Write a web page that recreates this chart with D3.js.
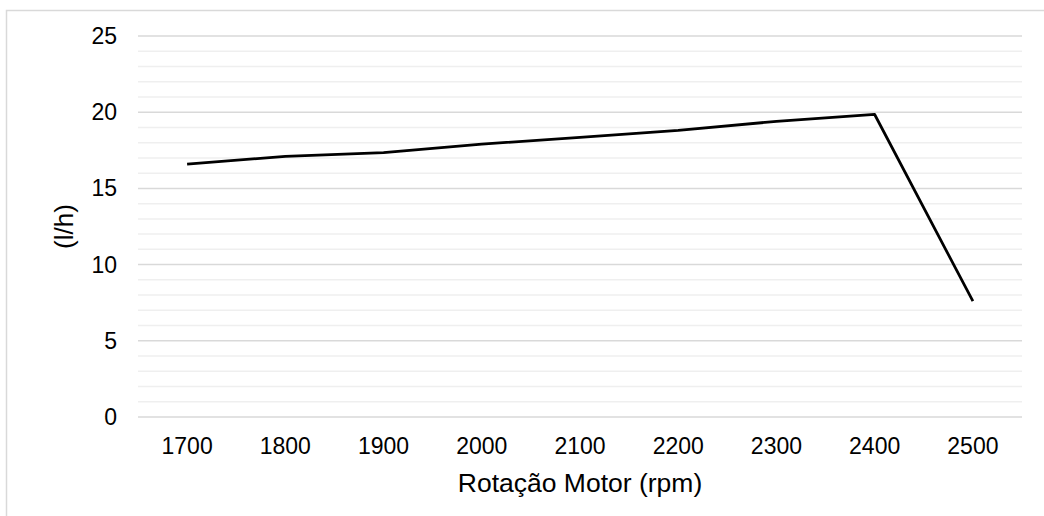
<!DOCTYPE html>
<html>
<head>
<meta charset="utf-8">
<script src="https://cdn.jsdelivr.net/npm/d3@7"></script>
<style>
  html, body { margin: 0; padding: 0; background: #fff; }
  svg { display: block; }
  text { font-family: "Liberation Sans", Arial, sans-serif; fill: #000; }
</style>
</head>
<body>
<svg id="chart" width="1044" height="516"></svg>
<script>
const categories = ["1700", "1800", "1900", "2000", "2100", "2200", "2300", "2400", "2500"];
const values = [16.6, 17.1, 17.35, 17.9, 18.35, 18.8, 19.4, 19.85, 7.6];
const majorTicks = [0, 5, 10, 15, 20, 25];
const minorTicks = d3.range(0, 26, 1);
const xTitle = "Rotação Motor (rpm)";
const yTitle = "(l/h)";

const svg = d3.select("#chart");
const W = 1044, H = 516;
const plot = { left: 138, right: 1022, top: 36, bottom: 417 };

// chart area border (cropped at right and bottom)
svg.append("rect")
  .attr("x", 6.5).attr("y", 10.5)
  .attr("width", W + 10).attr("height", H + 10)
  .attr("fill", "#fff").attr("stroke", "#d9d9d9").attr("stroke-width", 1.5);

const x = d3.scalePoint().domain(categories).range([plot.left, plot.right]).padding(0.5);
const y = d3.scaleLinear().domain([0, 25]).range([plot.bottom, plot.top]);

// minor gridlines
svg.append("g").selectAll("line")
  .data(minorTicks.filter(v => v % 5 !== 0))
  .join("line")
  .attr("x1", plot.left).attr("x2", plot.right)
  .attr("y1", d => y(d)).attr("y2", d => y(d))
  .attr("stroke", "#efefef").attr("stroke-width", 1.5);

// major gridlines
svg.append("g").selectAll("line")
  .data(majorTicks)
  .join("line")
  .attr("x1", plot.left).attr("x2", plot.right)
  .attr("y1", d => y(d)).attr("y2", d => y(d))
  .attr("stroke", "#d9d9d9").attr("stroke-width", 1.5);

// y tick labels
svg.append("g").selectAll("text")
  .data(majorTicks)
  .join("text")
  .attr("x", 117).attr("y", d => y(d))
  .attr("dy", "0.35em")
  .attr("text-anchor", "end")
  .style("font-size", "23px")
  .text(d => d);

// x tick labels
svg.append("g").selectAll("text")
  .data(categories)
  .join("text")
  .attr("x", d => x(d)).attr("y", 454)
  .attr("text-anchor", "middle")
  .style("font-size", "23px")
  .text(d => d);

// line
const line = d3.line()
  .x((d, i) => x(categories[i]))
  .y(d => y(d));
svg.append("path")
  .datum(values)
  .attr("d", line)
  .attr("fill", "none")
  .attr("stroke", "#000")
  .attr("stroke-width", 2.75)
  .attr("stroke-linejoin", "round");

// axis titles
svg.append("text")
  .attr("x", (plot.left + plot.right) / 2).attr("y", 492)
  .attr("text-anchor", "middle")
  .style("font-size", "26.5px")
  .text(xTitle);

svg.append("text")
  .attr("transform", `translate(64,${(plot.top + plot.bottom) / 2}) rotate(-90)`)
  .attr("text-anchor", "middle")
  .attr("dominant-baseline", "central")
  .style("font-size", "26px")
  .text(yTitle);
</script>
</body>
</html>
